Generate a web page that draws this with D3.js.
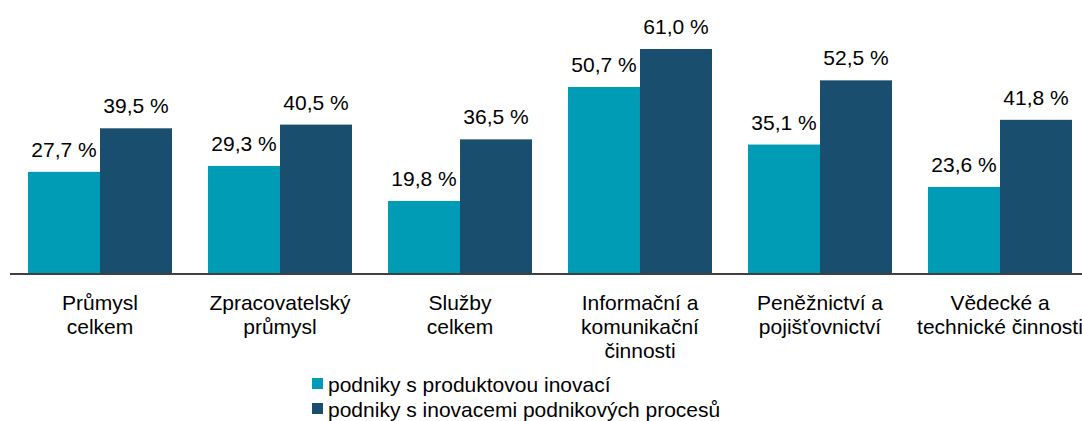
<html>
<head>
  <script src="https://cdn.jsdelivr.net/npm/d3@7"></script>
  <style>
  body { margin: 0; background: #fff; font-family: "Liberation Sans", Arial, sans-serif; }
  </style>
</head>
<body>
<svg id="chart"></svg>
<script>
const WIDTH = 1082
const HEIGHT = 421
const BASELINE = 274
const FONT = 21

const categories = [
  ["Průmysl", "celkem"],
  ["Zpracovatelský", "průmysl"],
  ["Služby", "celkem"],
  ["Informační a", "komunikační", "činnosti"],
  ["Peněžnictví a", "pojišťovnictví"],
  ["Vědecké a", "technické činnosti"]
]
const seriesNames = ["podniky s produktovou inovací", "podniky s inovacemi podnikových procesů"]
const productInnov = [27.7, 29.3, 19.8, 50.7, 35.1, 23.6]
const processInnov = [39.5, 40.5, 36.5, 61.0, 52.5, 41.8]
const colors = ["#009bb4", "#1a4e6e"]

let svg = d3.select("#chart").attr("width", WIDTH).attr("height", HEIGHT)

let xScale = d3.scaleBand()
  .domain(d3.range(categories.length))
  .range([10, 1090])
  .paddingInner(0.2)
  .paddingOuter(0.1)

let sub = d3.scaleBand()
  .domain([0, 1])
  .range([0, xScale.bandwidth()])

let yScale = d3.scaleLinear()
  .domain([0, 61])
  .range([BASELINE, 49])

let series = [productInnov, processInnov]

series.forEach((vals, s) => {
  let g = svg.append("g")
  g.selectAll("rect")
    .data(vals)
    .enter()
    .append("rect")
    .attr("x", (d, i) => xScale(i) + sub(s))
    .attr("width", sub.bandwidth())
    .attr("y", d => yScale(d))
    .attr("height", d => BASELINE - yScale(d))
    .attr("fill", colors[s])

  g.selectAll("text")
    .data(vals)
    .enter()
    .append("text")
    .attr("x", (d, i) => xScale(i) + sub(s) + sub.bandwidth() / 2)
    .attr("y", d => yScale(d) - 15)
    .attr("text-anchor", "middle")
    .attr("font-size", FONT)
    .attr("fill", "#000")
    .text(d => d.toFixed(1).replace(".", ",") + " %")
})

// axis line
svg.append("line")
  .attr("x1", 10).attr("x2", 1082)
  .attr("y1", BASELINE).attr("y2", BASELINE)
  .attr("stroke", "#404040")
  .attr("stroke-width", 2)

// category labels
categories.forEach((lines, i) => {
  let t = svg.append("text")
    .attr("text-anchor", "middle")
    .attr("font-size", FONT)
    .attr("fill", "#000")
  lines.forEach((ln, k) => {
    t.append("tspan")
      .attr("x", xScale(i) + xScale.bandwidth() / 2)
      .attr("y", 310 + k * 24)
      .text(ln)
  })
})

// legend
let legend = svg.append("g").attr("transform", "translate(312,0)")
seriesNames.forEach((name, i) => {
  legend.append("rect")
    .attr("x", 0).attr("y", 378 + i * 25)
    .attr("width", 11).attr("height", 11)
    .attr("fill", colors[i])
  legend.append("text")
    .attr("x", 16).attr("y", 392 + i * 25)
    .attr("font-size", FONT)
    .attr("fill", "#000")
    .text(name)
})
</script>
</body>
</html>
